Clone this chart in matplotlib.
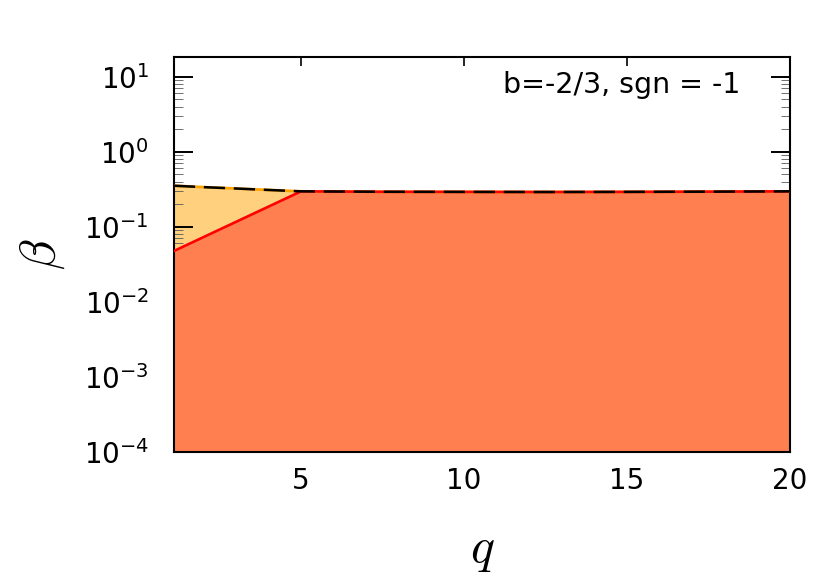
#!/usr/bin/env python3

import matplotlib
matplotlib.use("Agg")
from matplotlib.pyplot import figure, savefig, close
from matplotlib.ticker import LogLocator, NullFormatter

# upper boundary (black dashed over orange)
q_upper = [1.1, 2, 3, 4, 5, 7.5, 10, 12.5, 15, 17.5, 20]
beta_upper = [0.352, 0.337, 0.323, 0.309, 0.296, 0.292, 0.291, 0.290,
              0.291, 0.293, 0.296]

# lower boundary (red), joins the upper one at q = 5
q_lower = [1.1, 5, 7.5, 10, 12.5, 15, 17.5, 20]
beta_lower = [0.0474, 0.296, 0.292, 0.291, 0.290, 0.291, 0.293, 0.296]

beta_floor = 1e-4
label = "b=-2/3, sgn = -1"


def main():
    fig = figure(figsize=(8.28, 5.8), dpi=100)
    ax = fig.add_axes([0.210, 0.2212, 0.744, 0.6805])

    ax.fill_between(q_upper, beta_floor, beta_upper,
                    color="orange", alpha=0.5, lw=0, zorder=1)
    ax.fill_between(q_lower, beta_floor, beta_lower,
                    color="#ff7f50", lw=0, zorder=2)
    ax.plot(q_upper, beta_upper, color="orange", lw=2.0, zorder=3)
    ax.plot(q_lower, beta_lower, color="red", lw=1.9, zorder=4)
    ax.plot(q_upper, beta_upper, color="k", lw=1.8,
            dashes=(8.5, 3.5), zorder=5)

    ax.set_yscale("log")
    ax.set_xlim(1.1, 20)
    ax.set_ylim(beta_floor, 18.3)
    ax.set_xticks([5, 10, 15, 20])
    ax.yaxis.set_major_locator(LogLocator(base=10, numticks=10))
    ax.yaxis.set_minor_locator(LogLocator(base=10, subs=range(2, 10),
                                          numticks=20))
    ax.yaxis.set_minor_formatter(NullFormatter())

    ax.tick_params(axis="both", which="both", direction="in",
                   top=True, right=True, labelsize=20)
    ax.tick_params(axis="x", which="major", length=6.5, width=1.2, pad=11)
    ax.tick_params(axis="y", which="major", length=13.5, width=1.4, pad=18)
    ax.tick_params(axis="y", which="minor", length=6.5, width=0.6,
                   color="0.35")
    for edge in ["top", "right", "left", "bottom"]:
        ax.spines[edge].set_linewidth(1.5)

    ax.text(0.919, 0.908, label, transform=ax.transAxes,
            ha="right", va="baseline", fontsize=20.5)

    ax.set_xlabel(r"$q$", fontsize=36, math_fontfamily="cm", labelpad=22)
    ax.set_ylabel(r"$\beta$", fontsize=36, math_fontfamily="cm",
                  labelpad=12)

    savefig("out.png", dpi=100)
    close()


if __name__ == "__main__":
    main()
